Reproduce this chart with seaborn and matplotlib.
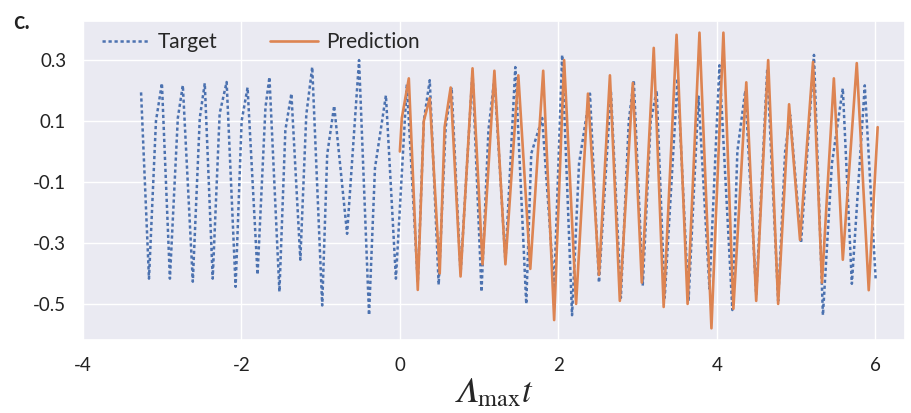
import numpy as np
import pandas as pd
import seaborn as sns
import matplotlib.pyplot as plt

# values (peaks, troughs and shoulders)
target_t = [-3.266, -3.166, -3.078, -3.003, -2.902, -2.802, -2.739, -2.613, -2.525, -2.462,
            -2.362, -2.274, -2.186, -2.073, -1.997, -1.922, -1.796, -1.696, -1.646, -1.520,
            -1.445, -1.369, -1.256, -1.181, -1.106, -0.980, -0.917, -0.829, -0.666, -0.515,
            -0.389, -0.314, -0.176, -0.050,
            0.088, 0.226, 0.302, 0.377, 0.490, 0.578, 0.653, 0.766, 0.917, 1.030,
            1.118, 1.193, 1.332, 1.457, 1.595, 1.658, 1.796, 1.947, 2.048, 2.173,
            2.261, 2.399, 2.513, 2.663, 2.789, 2.889, 2.952, 3.065, 3.166, 3.241,
            3.342, 3.505, 3.643, 3.769, 3.907, 4.033, 4.196, 4.259, 4.359, 4.497,
            4.636, 4.774, 4.862, 4.925, 5.063, 5.226, 5.339, 5.452, 5.590, 5.704,
            5.867, 6.005]
target_y = [0.194, -0.417, 0.10, 0.224, -0.417, 0.11, 0.217, -0.427, 0.11, 0.224,
            -0.417, 0.125, 0.228, -0.444, 0.10, 0.21, -0.404, 0.145, 0.244, -0.46,
            0.07, 0.19, -0.355, 0.12, 0.277, -0.505, -0.01, 0.15, -0.27, 0.30,
            -0.537, -0.054, 0.184, -0.417,
            0.22, -0.43, 0.10, 0.234, -0.437, 0.08, 0.21, -0.40, 0.26, -0.46,
            0.07, 0.24, -0.36, 0.277, -0.50, -0.007, 0.11, -0.45, 0.317, -0.537,
            -0.04, 0.19, -0.43, 0.20, -0.48, 0.10, 0.234, -0.44, 0.10, 0.20,
            -0.48, 0.24, -0.49, 0.18, -0.45, 0.283, -0.52, 0.0, 0.20, -0.47,
            0.27, -0.49, 0.0, 0.12, -0.30, 0.317, -0.537, -0.04, 0.207, -0.434,
            0.217, -0.42]

pred_t = [0.0, 0.025, 0.113, 0.226, 0.302, 0.377, 0.503, 0.565, 0.641, 0.766,
          0.917, 1.043, 1.193, 1.332, 1.495, 1.646, 1.809, 1.947, 2.073, 2.224,
          2.374, 2.513, 2.651, 2.776, 2.940, 3.053, 3.204, 3.329, 3.492, 3.631,
          3.781, 3.932, 4.083, 4.209, 4.372, 4.497, 4.648, 4.774, 4.912, 5.050,
          5.214, 5.327, 5.477, 5.590, 5.766, 5.917, 6.030]
pred_y = [0.0, 0.11, 0.24, -0.454, 0.10, 0.175, -0.40, 0.08, 0.21, -0.41,
          0.273, -0.37, 0.265, -0.37, 0.25, -0.385, 0.265, -0.553, 0.30, -0.50,
          0.19, -0.405, 0.25, -0.49, 0.225, -0.43, 0.34, -0.51, 0.383, -0.50,
          0.39, -0.58, 0.39, -0.516, 0.227, -0.49, 0.30, -0.50, 0.155, -0.29,
          0.294, -0.43, 0.24, -0.355, 0.29, -0.455, 0.08]

x_ticks = [-4, -2, 0, 2, 4, 6]
y_ticks = [0.3, 0.1, -0.1, -0.3, -0.5]
y_ticklabels = ["0.3", "0.1", "-0.1", "-0.3", "-0.5"]

sns.set_theme(style="darkgrid")
plt.rcParams['font.family'] = ['Lato', 'DejaVu Sans']
plt.rcParams['mathtext.fontset'] = 'stix'

fig = plt.figure(figsize=(9.11, 4.13), dpi=100)
ax = fig.add_axes([0.091, 0.177, 0.902, 0.772])

pal = sns.color_palette("deep")
sns.lineplot(x=target_t, y=target_y, ax=ax, color=pal[0], lw=1.8,
             linestyle=(0, (1.3, 1.1)), label="Target")
sns.lineplot(x=pred_t, y=pred_y, ax=ax, color=pal[1], lw=1.9, label="Prediction")

ax.set_xlim(-3.97, 6.37)
ax.set_ylim(-0.618, 0.428)
ax.set_xticks(x_ticks)
ax.set_xticklabels([str(v) for v in x_ticks], fontsize=13.5)
ax.set_yticks(y_ticks)
ax.set_yticklabels(y_ticklabels, fontsize=13.5)
ax.tick_params(axis="both", pad=6, colors="#222222")
# italic capital lambda (math italic code point)
ax.set_xlabel("$\U0001D6EC_{\\mathrm{max}}t$", fontsize=25, labelpad=2)
ax.set_ylabel("")

ax.legend(loc="upper left", bbox_to_anchor=(0.023, 0.966), ncol=2, frameon=False,
          fontsize=15, handlelength=2.3, columnspacing=2.5, borderaxespad=0,
          borderpad=0, handletextpad=0.4)

fig.text(0.014, 0.949, "c.", fontsize=17, fontweight="semibold", color="#222222",
         va="center")

fig.savefig("out.png", dpi=100)
